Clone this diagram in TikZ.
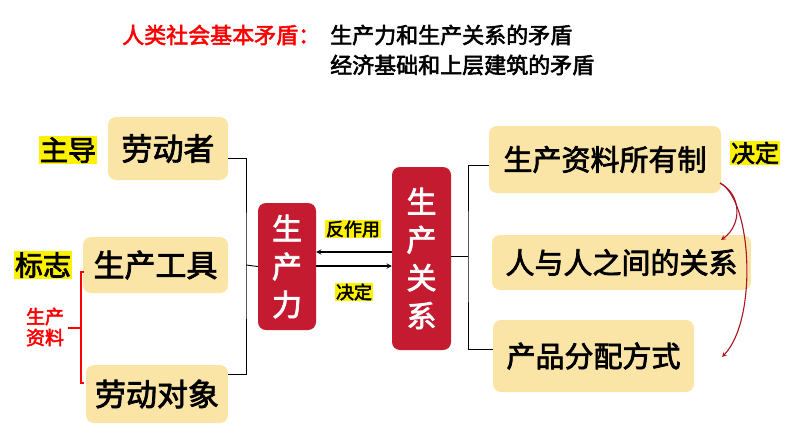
\documentclass[tikz,border=0pt]{standalone}
\usepackage{fontspec}
\newfontfamily\cjk{Noto Sans CJK SC}[AutoFakeBold=2.5]
\begin{document}
\begin{tikzpicture}[x=1pt,y=-1pt,
  tan/.style={fill=tanc, rounded corners=8pt, font=\cjk\bfseries\fontsize{#1}{#1}\selectfont, inner sep=0pt},
  redbox/.style={fill=redc, rounded corners=8pt, text=white, font=\cjk\bfseries\fontsize{30}{38}\selectfont, align=center, inner sep=0pt},
  hl/.style={fill=yellow, inner sep=1pt, font=\cjk\bfseries\fontsize{#1}{#1}\selectfont},
  ttl/.style={font=\cjk\bfseries\fontsize{22}{22}\selectfont, anchor=west, inner sep=0pt},
  ln/.style={draw=black, line width=0.9pt}]
\definecolor{tanc}{RGB}{251,229,166}
\definecolor{redc}{RGB}{196,27,48}
\definecolor{arc}{RGB}{170,20,35}
\useasboundingbox (0,0) rectangle (794,447);
\node[ttl, text=red] (t1) at (122,35) {人类社会基本矛盾：};
\node[ttl] (t2) at (330,35) {生产力和生产关系的矛盾};
\node[ttl] (t3) at (330,65) {经济基础和上层建筑的矛盾};
\node[tan=31, minimum width=120, minimum height=63] (ldz) at (168,148.5) {劳动者};
\node[tan=31, minimum width=145, minimum height=56] (scgj) at (155.5,265) {生产工具};
\node[tan=31, minimum width=142, minimum height=58] (lddx) at (157,394) {劳动对象};
\node[redbox, minimum width=58, minimum height=127] (scl) at (287,266.5) {生\\产\\力};
\node[redbox, minimum width=59, minimum height=183] (scgx) at (421.5,258.5) {生\\产\\关\\系};
\node[tan=29, minimum width=232, minimum height=67] (syz) at (605,159.5) {生产资料所有制};
\node[tan=29, minimum width=259, minimum height=55] (rgx) at (621.5,262.5) {人与人之间的关系};
\node[tan=29, minimum width=201, minimum height=72] (fp) at (593.5,356) {产品分配方式};
\node[hl=28] (zd) at (68,150) {主导};
\node[hl=28] (bz) at (43,265) {标志};
\node[font=\cjk\bfseries\fontsize{19}{21}\selectfont, text=red, align=center] (zl) at (45,327) {生产\\资料};
\node[hl=18] (fzy) at (353,229) {反作用};
\node[hl=18] (jd1) at (354,292) {决定};
\node[hl=24] (jd2) at (755,153) {决定};
\coordinate (bl) at (246,265);
\draw[ln] (ldz.east|-0,158) -| (bl) |- (lddx.east|-0,374);
\draw[ln] (bl) -- (scl.west);
\coordinate (br) at (468,256);
\draw[ln] (syz.west|-0,165) -| (br) |- (fp.west|-0,349);
\draw[ln] (br) -- (scgx.east|-0,256);
\draw[->, line width=1.3pt, >=stealth] (scgx.west|-0,252) -- (scl.east|-0,252);
\draw[->, line width=1.3pt, >=stealth] (scl.east|-0,266) -- (scgx.west|-0,266);
\draw[red, line width=1.2pt] (84,272) -- (81,272) -- (81,383) -- (84,383);
\draw[red, line width=1.2pt] (68,328) -- (81,328);
\coordinate (c0) at (720,183);
\coordinate (c1) at (721,240);
\coordinate (c2) at (722,357);
\draw[arc, line width=1.1pt, ->, >=stealth] (c0) .. controls (742,195) and (742,225) .. (c1);
\draw[arc, line width=1.1pt, ->, >=stealth] (c0) .. controls (752,200) and (758,320) .. (c2);
\end{tikzpicture}
\end{document}
